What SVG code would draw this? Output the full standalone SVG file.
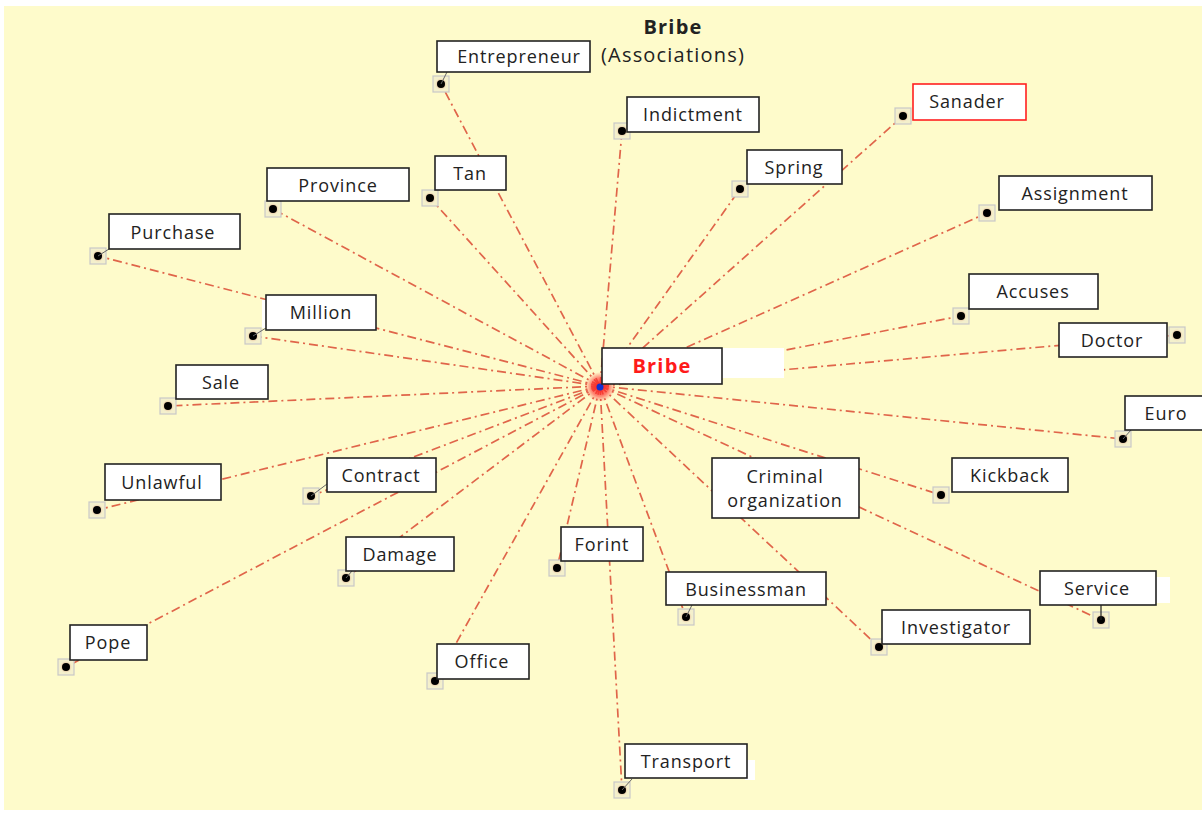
<svg xmlns="http://www.w3.org/2000/svg" width="1202" height="814" viewBox="0 0 1202 814">
  <style>
    .bg { fill: #fefbcb; }
    .link { stroke: #e0654a; stroke-width: 1.7; stroke-dasharray: 9 4 2 4; fill: none; }
    .tick { stroke: #666; stroke-width: 1; }
    .box { fill: #ffffff; stroke: #222; stroke-width: 1.6; }
    .pad { fill: #f4f0cc; stroke: #c8c8c8; stroke-width: 1.2; }
    .dot { fill: #000; }
    .label { font-family: "Open Sans", "Noto Sans", sans-serif; font-size: 18px; letter-spacing: 0.9px; fill: #222; text-anchor: middle; }
    .title { font-family: "Open Sans", "Noto Sans", sans-serif; font-size: 20px; letter-spacing: 1.2px; fill: #222; text-anchor: middle; }
  </style>
  <defs>
    <radialGradient id="halo">
      <stop offset="0" stop-color="#ff2020" stop-opacity="0.95"/>
      <stop offset="0.6" stop-color="#ff3030" stop-opacity="0.6"/>
      <stop offset="1" stop-color="#ff4040" stop-opacity="0"/>
    </radialGradient>
    <radialGradient id="dotglow">
      <stop offset="0" stop-color="#c04020" stop-opacity="0.7"/>
      <stop offset="1" stop-color="#e08060" stop-opacity="0"/>
    </radialGradient>
  </defs>

  <rect x="0" y="0" width="1202" height="814" fill="#ffffff"/>
  <rect class="bg" x="4" y="6" width="1198" height="804"/>

  <!-- title -->
  <text class="title" x="673" y="34" font-weight="bold">Bribe</text>
  <text class="title" x="673" y="62">(Associations)</text>

  <!-- spokes from the hub to each term -->
  <g id="connectors">
    <line class="link" x1="600" y1="386" x2="441" y2="84"/>
    <line class="link" x1="600" y1="386" x2="622" y2="131"/>
    <line class="link" x1="600" y1="386" x2="903" y2="116"/>
    <line class="link" x1="600" y1="386" x2="740" y2="189"/>
    <line class="link" x1="600" y1="386" x2="430" y2="198"/>
    <line class="link" x1="600" y1="386" x2="273" y2="209"/>
    <line class="link" x1="600" y1="386" x2="987" y2="213"/>
    <line class="link" x1="600" y1="386" x2="98" y2="256"/>
    <line class="link" x1="600" y1="386" x2="253" y2="336"/>
    <line class="link" x1="600" y1="386" x2="961" y2="316"/>
    <line class="link" x1="600" y1="386" x2="1177" y2="335"/>
    <line class="link" x1="600" y1="386" x2="168" y2="406"/>
    <line class="link" x1="600" y1="386" x2="1123" y2="439"/>
    <line class="link" x1="600" y1="386" x2="97" y2="510"/>
    <line class="link" x1="600" y1="386" x2="311" y2="496"/>
    <line class="link" x1="600" y1="386" x2="941" y2="495"/>
    <line class="link" x1="600" y1="386" x2="346" y2="578"/>
    <line class="link" x1="600" y1="386" x2="557" y2="568"/>
    <line class="link" x1="600" y1="386" x2="686" y2="617"/>
    <line class="link" x1="600" y1="386" x2="1101" y2="620"/>
    <line class="link" x1="600" y1="386" x2="879" y2="647"/>
    <line class="link" x1="600" y1="386" x2="66" y2="667"/>
    <line class="link" x1="600" y1="386" x2="435" y2="681"/>
    <line class="link" x1="600" y1="386" x2="622" y2="790"/>
  </g>

  <!-- hub -->
  <g id="hub">
    <circle cx="600" cy="387" r="15" fill="url(#halo)"/>
    <circle cx="600" cy="387" r="3.5" fill="#1030d0"/>
    <rect x="722" y="348" width="62" height="30" fill="#ffffff"/>
    <rect class="box" x="602" y="348" width="120" height="36"/>
    <text x="662" y="373" font-family="Open Sans, Noto Sans, sans-serif" font-size="20" letter-spacing="1.2" font-weight="bold" fill="#ff1a1a" text-anchor="middle">Bribe</text>
  </g>

  <g id="n-entrepreneur">
    <rect class="pad" x="433" y="76" width="16" height="16"/><circle cx="441" cy="84" r="6" fill="url(#dotglow)"/><circle class="dot" cx="441" cy="84" r="4"/>
    <line class="tick" x1="441" y1="84" x2="447" y2="72"/>
    <rect class="box" x="437" y="41" width="153" height="31"/>
    <text class="label" x="519" y="63">Entrepreneur</text>
  </g>
  <g id="n-indictment">
    <rect class="pad" x="614" y="123" width="16" height="16"/><circle cx="622" cy="131" r="6" fill="url(#dotglow)"/><circle class="dot" cx="622" cy="131" r="4"/>
    <rect class="box" x="627" y="97" width="132" height="35"/>
    <text class="label" x="693" y="121">Indictment</text>
  </g>
  <g id="n-sanader">
    <rect class="pad" x="895" y="108" width="16" height="16"/><circle cx="903" cy="116" r="6" fill="url(#dotglow)"/><circle class="dot" cx="903" cy="116" r="4"/>
    <rect x="913" y="84" width="113" height="36" fill="#ffffff" stroke="#ff2020" stroke-width="1.6"/>
    <text class="label" x="967" y="108">Sanader</text>
  </g>
  <g id="n-spring">
    <rect class="pad" x="732" y="181" width="16" height="16"/><circle cx="740" cy="189" r="6" fill="url(#dotglow)"/><circle class="dot" cx="740" cy="189" r="4"/>
    <rect class="box" x="747" y="150" width="95" height="34"/>
    <text class="label" x="794" y="174">Spring</text>
  </g>
  <g id="n-tan">
    <rect class="pad" x="422" y="190" width="16" height="16"/><circle cx="430" cy="198" r="6" fill="url(#dotglow)"/><circle class="dot" cx="430" cy="198" r="4"/>
    <rect class="box" x="435" y="156" width="71" height="34"/>
    <text class="label" x="470" y="180">Tan</text>
  </g>
  <g id="n-province">
    <rect class="pad" x="265" y="201" width="16" height="16"/><circle cx="273" cy="209" r="6" fill="url(#dotglow)"/><circle class="dot" cx="273" cy="209" r="4"/>
    <rect class="box" x="267" y="168" width="142" height="33"/>
    <text class="label" x="338" y="192">Province</text>
  </g>
  <g id="n-assignment">
    <rect class="pad" x="979" y="205" width="16" height="16"/><circle cx="987" cy="213" r="6" fill="url(#dotglow)"/><circle class="dot" cx="987" cy="213" r="4"/>
    <rect class="box" x="999" y="176" width="153" height="34"/>
    <text class="label" x="1075" y="200">Assignment</text>
  </g>
  <g id="n-purchase">
    <rect class="pad" x="90" y="248" width="16" height="16"/><circle cx="98" cy="256" r="6" fill="url(#dotglow)"/><circle class="dot" cx="98" cy="256" r="4"/>
    <line class="tick" x1="98" y1="256" x2="109" y2="249"/>
    <rect class="box" x="109" y="214" width="131" height="35"/>
    <text class="label" x="173" y="239">Purchase</text>
  </g>
  <g id="n-million">
    <rect class="pad" x="245" y="328" width="16" height="16"/><circle cx="253" cy="336" r="6" fill="url(#dotglow)"/><circle class="dot" cx="253" cy="336" r="4"/>
    <line class="tick" x1="253" y1="336" x2="266" y2="328"/>
    <rect x="262" y="300" width="6" height="28" fill="#ffffff"/>
    <rect class="box" x="266" y="295" width="110" height="35"/>
    <text class="label" x="321" y="319">Million</text>
  </g>
  <g id="n-accuses">
    <rect class="pad" x="953" y="308" width="16" height="16"/><circle cx="961" cy="316" r="6" fill="url(#dotglow)"/><circle class="dot" cx="961" cy="316" r="4"/>
    <rect class="box" x="969" y="274" width="129" height="35"/>
    <text class="label" x="1033" y="298">Accuses</text>
  </g>
  <g id="n-doctor">
    <rect class="pad" x="1169" y="327" width="16" height="16"/><circle cx="1177" cy="335" r="6" fill="url(#dotglow)"/><circle class="dot" cx="1177" cy="335" r="4"/>
    <rect class="box" x="1059" y="323" width="108" height="34"/>
    <text class="label" x="1112" y="347">Doctor</text>
  </g>
  <g id="n-sale">
    <rect class="pad" x="160" y="398" width="16" height="16"/><circle cx="168" cy="406" r="6" fill="url(#dotglow)"/><circle class="dot" cx="168" cy="406" r="4"/>
    <rect class="box" x="176" y="365" width="92" height="34"/>
    <text class="label" x="221" y="389">Sale</text>
  </g>
  <g id="n-euro">
    <rect class="pad" x="1115" y="431" width="16" height="16"/><circle cx="1123" cy="439" r="6" fill="url(#dotglow)"/><circle class="dot" cx="1123" cy="439" r="4"/>
    <line class="tick" x1="1123" y1="439" x2="1131" y2="430"/>
    <rect class="box" x="1125" y="396" width="80" height="34"/>
    <text class="label" x="1166" y="420">Euro</text>
  </g>
  <g id="n-unlawful">
    <rect class="pad" x="89" y="502" width="16" height="16"/><circle cx="97" cy="510" r="6" fill="url(#dotglow)"/><circle class="dot" cx="97" cy="510" r="4"/>
    <rect class="box" x="105" y="464" width="116" height="36"/>
    <text class="label" x="162" y="489">Unlawful</text>
  </g>
  <g id="n-contract">
    <rect class="pad" x="303" y="488" width="16" height="16"/><circle cx="311" cy="496" r="6" fill="url(#dotglow)"/><circle class="dot" cx="311" cy="496" r="4"/>
    <line class="tick" x1="311" y1="496" x2="327" y2="484"/>
    <rect class="box" x="327" y="458" width="109" height="34"/>
    <text class="label" x="381" y="482">Contract</text>
  </g>
  <g id="n-criminal-organization">
    <rect class="box" x="712" y="458" width="147" height="60"/>
    <text class="label" x="785" y="483">Criminal</text>
    <text class="label" x="785" y="507">organization</text>
  </g>
  <g id="n-kickback">
    <rect class="pad" x="933" y="487" width="16" height="16"/><circle cx="941" cy="495" r="6" fill="url(#dotglow)"/><circle class="dot" cx="941" cy="495" r="4"/>
    <rect class="box" x="952" y="458" width="116" height="34"/>
    <text class="label" x="1010" y="482">Kickback</text>
  </g>
  <g id="n-damage">
    <rect class="pad" x="338" y="570" width="16" height="16"/><circle cx="346" cy="578" r="6" fill="url(#dotglow)"/><circle class="dot" cx="346" cy="578" r="4"/>
    <line class="tick" x1="346" y1="578" x2="352" y2="571"/>
    <rect class="box" x="346" y="537" width="108" height="34"/>
    <text class="label" x="400" y="561">Damage</text>
  </g>
  <g id="n-forint">
    <rect class="pad" x="549" y="560" width="16" height="16"/><circle cx="557" cy="568" r="6" fill="url(#dotglow)"/><circle class="dot" cx="557" cy="568" r="4"/>
    <rect class="box" x="561" y="527" width="82" height="34"/>
    <text class="label" x="602" y="551">Forint</text>
  </g>
  <g id="n-businessman">
    <rect class="pad" x="678" y="609" width="16" height="16"/><circle cx="686" cy="617" r="6" fill="url(#dotglow)"/><circle class="dot" cx="686" cy="617" r="4"/>
    <line class="tick" x1="686" y1="617" x2="692" y2="605"/>
    <rect class="box" x="666" y="572" width="160" height="33"/>
    <text class="label" x="746" y="596">Businessman</text>
  </g>
  <g id="n-service">
    <rect x="1150" y="577" width="20" height="26" fill="#ffffff"/>
    <rect class="pad" x="1093" y="612" width="16" height="16"/><circle cx="1101" cy="620" r="6" fill="url(#dotglow)"/><circle class="dot" cx="1101" cy="620" r="4"/>
    <line x1="1101" y1="605" x2="1101" y2="620" stroke="#222" stroke-width="1.2"/>
    <rect class="box" x="1040" y="571" width="116" height="34"/>
    <text class="label" x="1097" y="595">Service</text>
  </g>
  <g id="n-investigator">
    <rect class="pad" x="871" y="639" width="16" height="16"/><circle cx="879" cy="647" r="6" fill="url(#dotglow)"/><circle class="dot" cx="879" cy="647" r="4"/>
    <rect class="box" x="882" y="610" width="148" height="34"/>
    <text class="label" x="956" y="634">Investigator</text>
  </g>
  <g id="n-pope">
    <rect class="pad" x="58" y="659" width="16" height="16"/><circle cx="66" cy="667" r="6" fill="url(#dotglow)"/><circle class="dot" cx="66" cy="667" r="4"/>
    <rect class="box" x="70" y="625" width="77" height="35"/>
    <text class="label" x="108" y="649">Pope</text>
  </g>
  <g id="n-office">
    <rect class="pad" x="427" y="673" width="16" height="16"/><circle cx="435" cy="681" r="6" fill="url(#dotglow)"/><circle class="dot" cx="435" cy="681" r="4"/>
    <rect class="box" x="437" y="644" width="92" height="35"/>
    <text class="label" x="482" y="668">Office</text>
  </g>
  <g id="n-transport">
    <rect x="745" y="760" width="10" height="20" fill="#ffffff"/>
    <rect class="pad" x="614" y="782" width="16" height="16"/><circle cx="622" cy="790" r="6" fill="url(#dotglow)"/><circle class="dot" cx="622" cy="790" r="4"/>
    <line class="tick" x1="622" y1="790" x2="632" y2="779"/>
    <rect class="box" x="625" y="744" width="122" height="34"/>
    <text class="label" x="686" y="768">Transport</text>
  </g>
</svg>
